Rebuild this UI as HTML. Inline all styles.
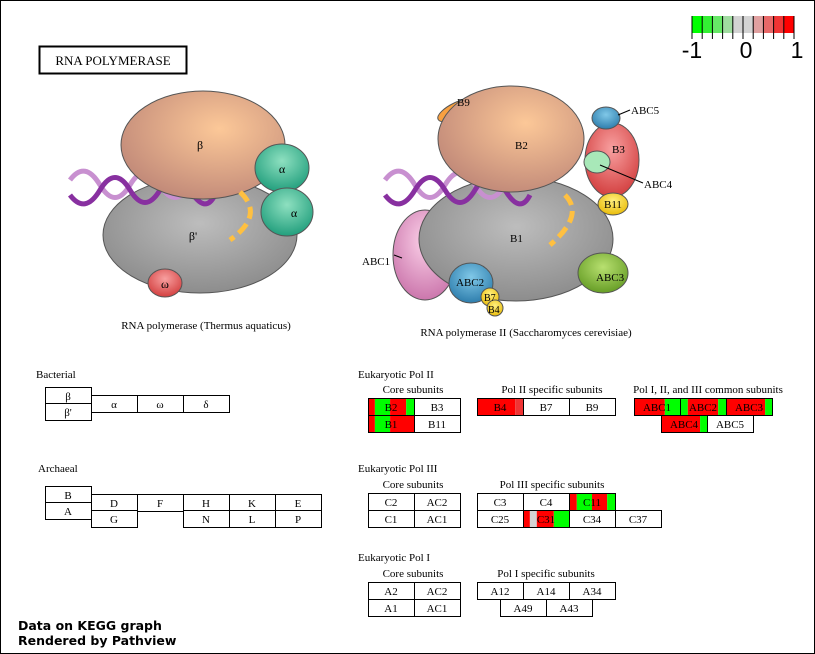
<!DOCTYPE html>
<html><head><meta charset="utf-8"><style>
body{margin:0;background:#fff;}
svg{display:block;font-family:"Liberation Serif",serif;}
</style></head><body>
<svg width="815" height="654" viewBox="0 0 815 654">
<defs>
<radialGradient id="gb" cx="0.6" cy="0.35" r="0.7"><stop offset="0" stop-color="#fcc898"/><stop offset="1" stop-color="#c08878"/></radialGradient>
<radialGradient id="gg" cx="0.5" cy="0.4" r="0.7"><stop offset="0" stop-color="#bdbdbd"/><stop offset="1" stop-color="#858585"/></radialGradient>
<radialGradient id="ga" cx="0.5" cy="0.35" r="0.7"><stop offset="0" stop-color="#8ee0c0"/><stop offset="1" stop-color="#1a9a78"/></radialGradient>
<radialGradient id="gp" cx="0.5" cy="0.35" r="0.7"><stop offset="0" stop-color="#fbd0e8"/><stop offset="1" stop-color="#c870a8"/></radialGradient>
<radialGradient id="gr" cx="0.5" cy="0.35" r="0.7"><stop offset="0" stop-color="#f8a0a0"/><stop offset="1" stop-color="#d03838"/></radialGradient>
<radialGradient id="gbl" cx="0.5" cy="0.35" r="0.7"><stop offset="0" stop-color="#80c8e8"/><stop offset="1" stop-color="#2878a8"/></radialGradient>
<radialGradient id="gy" cx="0.5" cy="0.35" r="0.7"><stop offset="0" stop-color="#fff080"/><stop offset="1" stop-color="#e8b800"/></radialGradient>
<radialGradient id="gl" cx="0.5" cy="0.35" r="0.7"><stop offset="0" stop-color="#b8e070"/><stop offset="1" stop-color="#609820"/></radialGradient>
</defs>
<rect x="0.5" y="0.5" width="814" height="653" fill="#fff" stroke="#000"/>
<!-- legend -->
<g>
<g id="legcells"></g>
<text x="692" y="58" font-family="Liberation Sans, sans-serif" font-size="23" text-anchor="middle">-1</text>
<text x="746" y="58" font-family="Liberation Sans, sans-serif" font-size="23" text-anchor="middle">0</text>
<text x="797" y="58" font-family="Liberation Sans, sans-serif" font-size="23" text-anchor="middle">1</text>
</g>
<g>
<rect x="39.5" y="46.5" width="147" height="27" fill="#fff" stroke="#000" stroke-width="2"/>
<text x="113" y="65" font-size="13" text-anchor="middle">RNA POLYMERASE</text>
</g>
<!-- left illustration -->
<g>
<ellipse cx="200" cy="235" rx="97" ry="58" fill="url(#gg)" stroke="#555"/>
<path d="M70 180 Q85 160 100 185 T130 185 T160 185 T190 185 T215 190" fill="none" stroke="#c890d0" stroke-width="5"/>
<path d="M70 195 Q85 215 100 190 T130 190 T160 190 T190 190 T215 195" fill="none" stroke="#8830a0" stroke-width="5"/>
<ellipse cx="203" cy="145" rx="82" ry="54" fill="url(#gb)" stroke="#555"/>
<path d="M240 192 Q265 215 230 240" fill="none" stroke="#ffc040" stroke-width="5" stroke-dasharray="12,6"/>
<ellipse cx="282" cy="168" rx="27" ry="24" fill="url(#ga)" stroke="#555"/>
<ellipse cx="287" cy="212" rx="26" ry="24" fill="url(#ga)" stroke="#555"/>
<ellipse cx="165" cy="283" rx="17" ry="14" fill="url(#gr)" stroke="#555"/>
<text x="200" y="149" font-size="12" text-anchor="middle">β</text>
<text x="193" y="240" font-size="12" text-anchor="middle">β'</text>
<text x="282" y="173" font-size="12" text-anchor="middle">α</text>
<text x="294" y="217" font-size="12" text-anchor="middle">α</text>
<text x="165" y="288" font-size="12" text-anchor="middle">ω</text>
<text x="206" y="329" font-size="11" text-anchor="middle">RNA polymerase (Thermus aquaticus)</text>
</g>
<!-- right illustration -->
<g>
<ellipse cx="425" cy="255" rx="32" ry="45" fill="url(#gp)" stroke="#555"/>
<ellipse cx="516" cy="239" rx="97" ry="62" fill="url(#gg)" stroke="#555"/>
<path d="M385 180 Q400 160 415 185 T445 185 T475 185 T505 185 T530 190" fill="none" stroke="#c890d0" stroke-width="5"/>
<path d="M385 195 Q400 215 415 190 T445 190 T475 190 T505 190 T530 195" fill="none" stroke="#8830a0" stroke-width="5"/>
<ellipse cx="612" cy="160" rx="27" ry="37" fill="url(#gr)" stroke="#555"/>
<ellipse cx="458" cy="110" rx="22" ry="8" transform="rotate(-25 458 110)" fill="#f8a040" stroke="#555"/>
<ellipse cx="511" cy="139" rx="73" ry="53" fill="url(#gb)" stroke="#555"/>
<path d="M565 195 Q585 215 550 245" fill="none" stroke="#ffc040" stroke-width="5" stroke-dasharray="12,6"/>
<ellipse cx="606" cy="118" rx="14" ry="11" fill="url(#gbl)" stroke="#555"/>
<ellipse cx="597" cy="162" rx="13" ry="11" fill="#a8e8b8" stroke="#555"/>
<ellipse cx="613" cy="204" rx="15" ry="11" fill="url(#gy)" stroke="#555"/>
<ellipse cx="603" cy="273" rx="25" ry="20" fill="url(#gl)" stroke="#555"/>
<ellipse cx="471" cy="283" rx="22" ry="20" fill="url(#gbl)" stroke="#555"/>
<circle cx="490" cy="297" r="9" fill="url(#gy)" stroke="#555"/>
<circle cx="495" cy="308" r="8" fill="url(#gy)" stroke="#555"/>
<line x1="618" y1="115" x2="630" y2="110" stroke="#000"/>
<line x1="600" y1="165" x2="643" y2="183" stroke="#000"/>
<line x1="394" y1="255" x2="402" y2="258" stroke="#000"/>
<g font-size="11">
<text x="457" y="106">B9</text><text x="515" y="149">B2</text><text x="612" y="153">B3</text>
<text x="631" y="114">ABC5</text><text x="644" y="188">ABC4</text><text x="604" y="208">B11</text>
<text x="510" y="242">B1</text><text x="362" y="265">ABC1</text><text x="456" y="286">ABC2</text>
<text x="596" y="281">ABC3</text><text x="484" y="301" font-size="10">B7</text><text x="488" y="313" font-size="10">B4</text>
<text x="526" y="336" text-anchor="middle">RNA polymerase II (Saccharomyces cerevisiae)</text>
</g>
</g>
<g id="boxes" font-size="11"></g>
<text x="18" y="630" font-family="DejaVu Sans, sans-serif" font-size="12.5" font-weight="bold">Data on KEGG graph</text>
<text x="18" y="645" font-family="DejaVu Sans, sans-serif" font-size="12.5" font-weight="bold">Rendered by Pathview</text>
</svg>
<script>
const legendColors=["#00ff00","#33f033","#66e866","#a0dca0","#d3d3d3","#d3d3d3","#e0a0a0","#e86868","#f03434","#ff0000"];
const genes=["β","β'","α","ω","δ","B","A","D","F","H","K","E","G","N","L","P","B2","B3","B1","B11","B4","B7","B9","ABC1","ABC2","ABC3","ABC4","ABC5","C2","AC2","C1","AC1","C3","C4","C11","C25","C31","C34","C37","A2","AC2b","A1","AC1b","A12","A14","A34","A49","A43"];
const boxX=[45,45,91,137,183,45,45,91,137,183,229,275,91,183,229,275,368,414,368,414,477,523,569,634,680,726,661,707,368,414,368,414,477,523,569,477,523,569,615,368,414,368,414,477,523,569,500,546];
const boxY=[387,403,395,395,395,486,502,494,494,494,494,494,510,510,510,510,398,398,415,415,398,398,398,398,398,398,415,415,493,493,510,510,493,493,493,510,510,510,510,582,582,599,599,582,582,582,599,599];
// color segments per gene: [startFraction,endFraction,color]
const segs={
"B2":[[0,0.15,"#ff0000"],[0.15,0.48,"#00ff00"],[0.48,0.83,"#ff0000"],[0.83,1,"#00ff00"]],
"B1":[[0,0.15,"#ff0000"],[0.15,0.48,"#00ff00"],[0.48,1,"#ff0000"]],
"B4":[[0,0.83,"#ff0000"],[0.83,1,"#f03434"]],
"ABC1":[[0,0.67,"#ff0000"],[0.67,1,"#00ff00"]],
"ABC2":[[0,0.17,"#00ff00"],[0.17,0.83,"#ff0000"],[0.83,1,"#00ff00"]],
"ABC3":[[0,0.85,"#ff0000"],[0.85,1,"#00ff00"]],
"ABC4":[[0,0.85,"#ff0000"],[0.85,1,"#00ff00"]],
"C11":[[0,0.17,"#ff0000"],[0.17,0.5,"#00ff00"],[0.5,0.83,"#ff0000"],[0.83,1,"#00ff00"]],
"C31":[[0,0.15,"#ff0000"],[0.15,0.3,"#d3d3d3"],[0.3,0.67,"#ff0000"],[0.67,1,"#00ff00"]]
};
const NS="http://www.w3.org/2000/svg";
const lg=document.getElementById('legcells');
legendColors.forEach((c,i)=>{
 const r=document.createElementNS(NS,'rect');
 r.setAttribute('x',692+i*10.2);r.setAttribute('y',16);r.setAttribute('width',10.2);r.setAttribute('height',17);r.setAttribute('fill',c);
 
 
 lg.appendChild(r);
 const l=document.createElementNS(NS,'line');
 l.setAttribute('x1',692+i*10.2);l.setAttribute('x2',692+i*10.2);l.setAttribute('y1',16);l.setAttribute('y2',39);l.setAttribute('stroke','#000');
 lg.appendChild(l);
});
const le=document.createElementNS(NS,'line');
le.setAttribute('x1',794);le.setAttribute('x2',794);le.setAttribute('y1',16);le.setAttribute('y2',39);le.setAttribute('stroke','#000');lg.appendChild(le);
const bg=document.getElementById('boxes');
const W=46,H=17;
genes.forEach((g,i)=>{
 const x=boxX[i],y=boxY[i];
 const grp=document.createElementNS(NS,'g');
 
 
 const bgR=document.createElementNS(NS,'rect');
 bgR.setAttribute('x',x);bgR.setAttribute('y',y);bgR.setAttribute('width',W);bgR.setAttribute('height',H);bgR.setAttribute('fill','#fff');
 grp.appendChild(bgR);
 (segs[g]||[]).forEach(s=>{
  const r=document.createElementNS(NS,'rect');
  r.setAttribute('x',x+s[0]*W);r.setAttribute('y',y);r.setAttribute('width',(s[1]-s[0])*W);r.setAttribute('height',H);r.setAttribute('fill',s[2]);
  grp.appendChild(r);
 });
 const b=document.createElementNS(NS,'rect');
 b.setAttribute('x',x+0.5);b.setAttribute('y',y+0.5);b.setAttribute('width',W);b.setAttribute('height',H);b.setAttribute('fill','none');b.setAttribute('stroke','#000');
 grp.appendChild(b);
 const t=document.createElementNS(NS,'text');
 t.setAttribute('x',x+W/2);t.setAttribute('y',y+13);t.setAttribute('text-anchor','middle');
 t.textContent=g.replace(/b$/,'');
 grp.appendChild(t);
 bg.appendChild(grp);
});
const labels=[["Bacterial",36,378,"start"],["Archaeal",38,472,"start"],["Eukaryotic Pol II",358,378,"start"],["Core subunits",413,393,"middle"],["Pol II specific subunits",552,393,"middle"],["Pol I, II, and III common subunits",708,393,"middle"],["Eukaryotic Pol III",358,472,"start"],["Core subunits",413,488,"middle"],["Pol III specific subunits",552,488,"middle"],["Eukaryotic Pol I",358,561,"start"],["Core subunits",413,577,"middle"],["Pol I specific subunits",546,577,"middle"]];
labels.forEach(l=>{
 const t=document.createElementNS(NS,'text');
 t.setAttribute('x',l[1]);t.setAttribute('y',l[2]);t.setAttribute('text-anchor',l[3]);t.textContent=l[0];
 
 
 bg.appendChild(t);
});
</script>
</body></html>
